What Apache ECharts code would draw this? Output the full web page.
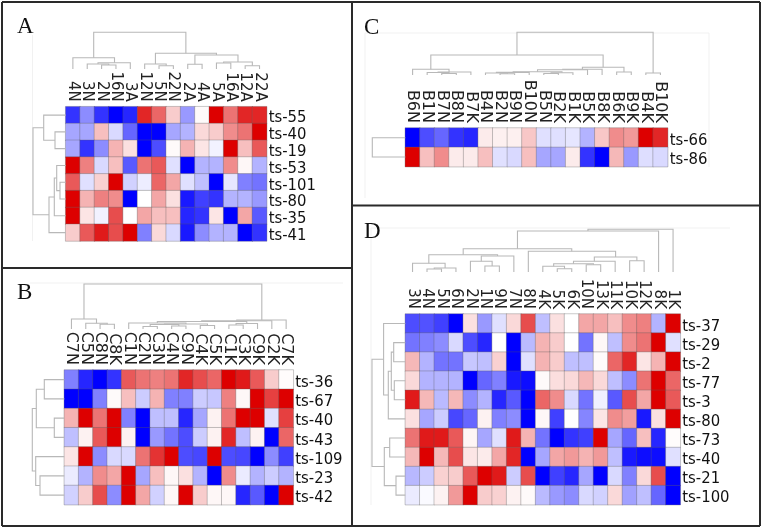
<!DOCTYPE html>
<html><head><meta charset="utf-8">
<style>html,body{margin:0;padding:0;background:#fff}#c{width:762px;height:529px}</style>
<script src="https://cdn.jsdelivr.net/npm/echarts@6/dist/echarts.min.js"></script>
</head><body><div id="c"></div>
<script>
const colsA=['4N','3N','2N','16N','3A','12N','5N','22N','2A','4A','5A','16A','12A','22A'];
const rowsA=['ts-55','ts-40','ts-19','ts-53','ts-101','ts-80','ts-35','ts-41'];
const valsA=[
[-.8,-.45,-.8,-1,-.85,.85,.6,.2,-.4,.02,1,.55,.85,.85],
[-.35,-.35,.25,-.15,-.6,-1,-1,-.35,-.3,.15,.2,.45,.55,1],
[-.35,-.8,-.45,.3,.12,-1,-.7,.02,.3,.1,-.05,1,.25,.65],
[1,.5,-.15,.25,-.65,.55,.65,-.12,-1,-.3,-.3,.45,.03,-.3],
[.65,-.12,.18,1,-.18,-.07,.6,.35,-.12,-.25,-1,-.1,-.5,-.55],
[1,.3,.5,.45,-1,0,.35,.12,-.9,-.75,-.8,-.3,-.3,-.4],
[1,.1,-.05,.7,0,.35,.25,.25,-.85,-.8,.1,-1,.35,-.65],
[.2,.65,.9,.7,1,-.5,.15,-.15,-.9,-.45,-.3,-.3,-1,-.8]];
const topA=[[2.5,3.5,4,0,0],[1.5,3,5,0,4],[2.25,4.5,6.3,5,0],[.5,3.4,11.3,0,6.3],[6.5,7.5,3.3,0,0],[5.5,7,5,0,3.3],[8.5,9.5,4.7,0,0],[12.5,13.5,3.3,0,0],[10.5,11.5,6,0,0],[11,13,7,6,3.3],[9,12,14,4.7,7],[6.25,10.5,15.7,5,14],[1.95,8.37,36.7,11.3,15.7]];
const sideA=[[1.5,2.5,10.7,0,0],[.5,2,22,0,10.7],[4.5,5.5,5.7,0,0],[3.5,5,9,0,5.7],[4.25,6.5,11.4,9,0],[5.375,7.5,16.7,11.4,0],[1.25,6.44,32.7,22,16.7]];

const colsB=['C7N','C5N','C8N','C8K','C1N','C2N','C3N','C4N','C9N','C4K','C5K','C1K','C3K','C9K','C2K','C7K'];
const rowsB=['ts-36','ts-67','ts-40','ts-43','ts-109','ts-23','ts-42'];
const valsB=[
[-.5,-.85,-1,-.8,.65,.55,.5,.55,.85,.7,.6,1,.9,.65,.2,.01],
[-1,-1,-.5,.02,.25,-.2,.3,-.5,-.5,-.2,-.22,.5,.03,1,.75,1],
[.3,1,.55,1,-.5,-1,-.25,-.25,-.85,-.35,.05,.55,1,1,-.12,.75],
[-.25,.05,.65,1,.05,-1,-.4,-.55,-.7,-.2,.05,.85,-.25,.05,-1,.6],
[.1,1,-.45,-.15,-.15,.55,.8,1,-.7,-.72,1,-.7,-.72,-1,-.45,-.75],
[-.08,-.3,.45,.35,1,-.35,.25,.03,.12,-.3,-1,.45,-.08,-.3,-.2,-.3],
[-.18,.2,.7,-.45,1,.35,-.18,.03,1,.2,.03,.03,-.85,-.65,-1,1]];
const topB=[[2.5,3.5,4.7,0,0],[1.5,3,5.7,0,4.7],[.5,2.25,10,0,5.7],[5.5,6.5,2.5,0,0],[7.5,8.5,3,0,0],[6,8,4.5,2.5,3],[9.5,10.5,3.5,0,0],[7,10,5,4.5,3.5],[4.5,8.5,6,0,5],[11.5,12.5,4,0,0],[12,13.5,5.5,4,0],[6.5,12.75,7.5,6,5.5],[9.6,14.5,8.2,7.5,0],[12.05,15.5,9,8.2,0],[1.375,13.8,45,10,9]];
const sideB=[[.5,1.5,20,0,0],[2.5,3.5,10,0,0],[1,3,28,20,10],[5.5,6.5,24.3,0,0],[4.5,6,28.6,0,24.3],[2,5.25,32,28,28.6]];

const colsC=['B6N','B1N','B7N','B8N','B7K','B4N','B2N','B9N','B10N','B5N','B2K','B1K','B5K','B8K','B6K','B9K','B4K','B10K'];
const rowsC=['ts-66','ts-86'];
const valsC=[
[-1,-.7,-.6,-.8,-.85,.08,.06,.06,.22,-.12,-.12,-.1,-.3,.22,.45,.4,1,.85],
[1,.25,.45,.08,.08,.25,-.12,-.15,.25,-.35,-.35,.08,-.8,-1,.28,-.4,-.13,-.15]];
const topC=[[2.5,3.5,1.5,0,0],[1.5,3,2.5,0,1.5],[2.25,4.5,3,2.5,0],[.5,3,5.7,0,3],[6.5,7.5,1.2,0,0],[5.5,7,2,0,1.2],[9.5,10.5,1.5,0,0],[10,11.5,2.2,1.5,0],[6.25,8.5,2.6,2,0],[7.4,10.75,3.2,2.6,2.2],[9.07,12.5,5.3,3.2,0],[10.8,13.5,5.7,5.3,0],[14.5,15.5,3,0,0],[12.15,15,7.7,5.7,3],[1.75,13.57,20,5.7,7.7],[16.5,17.5,2,0,0],[7.66,17,42.7,20,2]];
const sideC=[[.5,1.5,33,0,0]];

const colsD=['3N','4N','5N','6N','2N','1N','9N','7N','8N','4K','5K','6K','10N','13K','11K','10K','12K','8K','1K'];
const rowsD=['ts-37','ts-29','ts-2','ts-77','ts-3','ts-80','ts-73','ts-40','ts-21','ts-100'];
const valsD=[
[-.7,-.68,-.75,-1,.12,-.4,-.12,.15,.7,-.25,.12,0,.35,.35,.25,.45,.5,-.3,1],
[-.55,-.5,-.45,-.15,-.7,-.85,0,-1,-.27,.3,.2,0,-.55,.03,-.25,.45,.55,1,-.12],
[.28,-.3,-.55,-.55,-.22,-.25,.18,-1,-.12,.3,.2,-.25,-.25,.02,.6,.85,.1,.3,1],
[.15,-.3,-.3,-.3,-1,-.6,-.5,-.9,-.95,.02,.13,.15,.28,.15,-.25,-.45,.55,1,.6],
[.9,.28,-.27,.28,-.45,-.3,-.85,-.65,-1,.6,.45,-.15,-.55,-.06,-.65,.7,.35,1,.65],
[.12,-.35,-.2,-.72,-.6,.05,-.5,-.45,-1,.03,-.75,0,-.48,.1,.45,.38,-.9,.12,1],
[.55,.9,.9,.65,.04,-.35,-.12,.9,.3,-.55,-1,-.8,-.75,1,-.35,-.6,.25,-.85,.01],
[.28,1,.28,.7,.1,.08,.35,.85,-1,-.35,.35,.4,.3,.4,-.25,-.9,-.95,-.95,-.12],
[-.28,-.2,.18,.2,.65,1,.9,-.2,.7,-1,-.75,-.85,-.35,-1,-.15,-.5,.15,.7,-1],
[-.08,-.02,.05,.4,1,.2,.18,.05,.02,-.27,-.4,-.45,-.15,-.18,.15,-.37,-.25,-.6,-1]];
const topD=[[1.5,2.5,3,0,0],[2,3.5,4,3,0],[.5,2.75,8.7,0,4],[5.5,6.5,6,0,0],[4.5,6,10.7,0,6],[5.25,7.5,16,10.7,0],[1.625,6.375,17.3,8.7,16],[10.5,11.5,3.3,0,0],[9.5,11,5.7,0,3.3],[12.5,13.5,7.3,0,0],[10.25,13,8.3,5.7,7.3],[11.62,14.5,10.7,8.3,0],[15.5,16.5,11.3,0,0],[13.06,16,15,10.7,11.3],[8.5,14.53,20.7,0,15],[4,11.5,23.3,17.3,20.7],[7.75,17.5,41,23.3,0],[12.62,18.5,42.7,41,0]];
const sideD=[[1.5,2.5,11.6,0,0],[3.5,4.5,11,0,0],[2,4,14,11.6,11],[3,5.5,17,14,0],[.5,4.25,21.7,0,17],[6.5,7.5,15.6,0,0],[8.5,9.5,9.3,0,0],[7,9,21,15.6,9.3],[2.375,8,33.3,21.7,21]];

const panels=[
 {t:'A',tx:17,ty:15,x:65.7,y:106.7,w:201,h:134.3,base:69,cols:colsA,rows:rowsA,vals:valsA,top:topA,side:sideA,fs:15},
 {t:'B',tx:17,ty:281,x:64.3,y:370,w:229,h:134.7,base:329,cols:colsB,rows:rowsB,vals:valsB,top:topB,side:sideB,fs:16},
 {t:'C',tx:364,ty:16,x:405.3,y:128,w:262.4,h:38.7,base:75,cols:colsC,rows:rowsC,vals:valsC,top:topC,side:sideC,fs:16},
 {t:'D',tx:364,ty:220,x:405.3,y:314,w:275,h:190.7,base:272,cols:colsD,rows:rowsD,vals:valsD,top:topD,side:sideD,fs:15}
];
const grid=[],xAxis=[],yAxis=[],series=[],title=[],heatIdx=[];
const treeStyle={stroke:'#b8b8b8',fill:null,lineWidth:1.1};
function tree(xi,yi,data,horizontal){
  series.push({type:'custom',xAxisIndex:xi,yAxisIndex:yi,silent:true,clip:false,data,
    renderItem(p,api){
      const [a,b,h,h1,h2]=[0,1,2,3,4].map(i=>api.value(i));
      const pts=horizontal?[[h1,a],[h,a],[h,b],[h2,b]]:[[a,h1],[a,h],[b,h],[b,h2]];
      return {type:'polyline',shape:{points:pts.map(q=>api.coord(q))},style:treeStyle};
    }});
}
panels.forEach(p=>{
  title.push({text:p.t,left:p.tx,top:p.ty,padding:0,textStyle:{fontFamily:'Liberation Serif',fontSize:23,fontWeight:'normal',color:'#111'}});
  let i=grid.length;
  grid.push({left:p.x,top:p.y,width:p.w,height:p.h,containLabel:false,outerBoundsMode:'none'});
  xAxis.push({type:'category',gridIndex:i,position:'top',data:p.cols,axisLine:{show:false},axisTick:{show:false},splitLine:{show:false},
    axisLabel:{interval:0,rotate:90,margin:5,fontFamily:'DejaVu Sans',fontSize:p.fs,color:'#222'}});
  yAxis.push({type:'category',gridIndex:i,position:'right',inverse:true,data:p.rows,axisLine:{show:false},axisTick:{show:false},splitLine:{show:false},
    axisLabel:{interval:0,margin:2,verticalAlign:'top',lineHeight:6,fontFamily:'DejaVu Sans Condensed',fontSize:16.5,color:'#111'}});
  const d=[];p.vals.forEach((r,ri)=>r.forEach((v,ci)=>d.push([ci,ri,v])));
  heatIdx.push(series.length);
  series.push({type:'heatmap',xAxisIndex:i,yAxisIndex:i,data:d,silent:true,itemStyle:{borderColor:'rgba(90,90,90,.32)',borderWidth:1},emphasis:{disabled:true}});
  const mh=Math.max(...p.top.map(m=>m[2]));
  i=grid.length;
  grid.push({left:p.x,top:p.base-mh,width:p.w,height:mh,containLabel:false,outerBoundsMode:'none'});
  xAxis.push({type:'value',gridIndex:i,min:0,max:p.cols.length,show:false});
  yAxis.push({type:'value',gridIndex:i,min:0,max:mh,show:false});
  tree(i,i,p.top,false);
  const md=Math.max(...p.side.map(m=>m[2]));
  i=grid.length;
  grid.push({left:p.x-md,top:p.y,width:md,height:p.h,containLabel:false,outerBoundsMode:'none'});
  xAxis.push({type:'value',gridIndex:i,min:0,max:md,inverse:true,show:false});
  yAxis.push({type:'value',gridIndex:i,min:0,max:p.rows.length,inverse:true,show:false});
  tree(i,i,p.side,true);
});
const dark={stroke:'#2a2a2a',lineWidth:2},faint={stroke:'#f1f1f1',lineWidth:1};
const ln=(x1,y1,x2,y2,style)=>({type:'line',silent:true,shape:{x1,y1,x2,y2},style});
const chart=echarts.init(document.getElementById('c'),null,{renderer:'canvas'});
chart.setOption({animation:false,backgroundColor:'#fff',title,grid,xAxis,yAxis,series,
  visualMap:{show:false,seriesIndex:heatIdx,dimension:2,min:-1,max:1,inRange:{color:['#0000ff','#ffffff','#dd0000']}},
  graphic:[
    ln(32.5,35,32.5,241,faint),ln(30,283,343,283,faint),
    ln(365,33,365,198,faint),ln(365,33,709,33,faint),ln(709,33,709,167,faint),
    ln(371,228,730,228,faint),ln(371,228,371,505,faint),
    ln(2,2,760,2,dark),ln(2,526,760,526,dark),ln(2,2,2,526,dark),ln(760,2,760,526,dark),
    ln(352,2,352,526,dark),ln(2,268,352,268,dark),ln(352,205.5,760,205.5,dark)
  ]});
</script></body></html>
